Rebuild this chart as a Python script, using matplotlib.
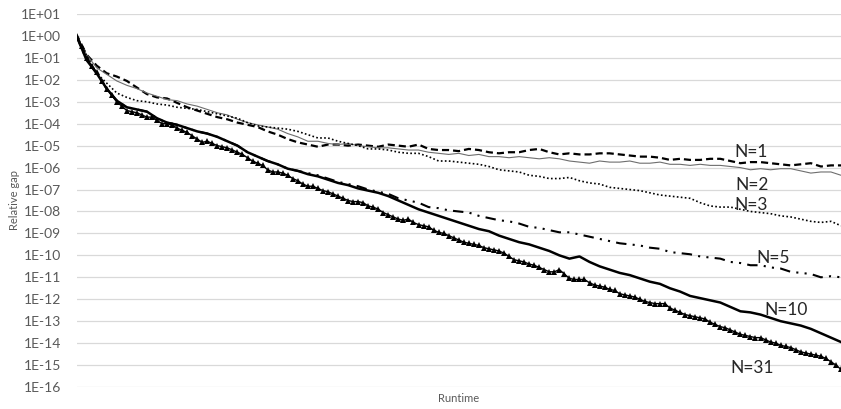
import numpy as np
import matplotlib
matplotlib.use("Agg")
import matplotlib.pyplot as plt

# runtime grid (arbitrary units); fine grid for N=31, coarse for the others
runtime_fine = np.arange(153)
runtime_coarse = runtime_fine[::2]

# log10(relative gap)
n1_log = [0.0, -0.85, -1.35, -1.7, -1.85, -2.05, -2.35, -2.65, -2.8, -2.85,
          -3.05, -3.25, -3.4, -3.55, -3.7, -3.8, -3.95, -4.05, -4.15, -4.35,
          -4.5, -4.7, -4.85, -4.95, -5.05, -4.95, -4.95, -5.0, -4.95, -5.0,
          -5.05, -4.95, -5.0, -5.05, -4.95, -5.15, -5.2, -5.2, -5.25, -5.15,
          -5.2, -5.3, -5.35, -5.3, -5.3, -5.2, -5.15, -5.3, -5.4, -5.35,
          -5.4, -5.4, -5.35, -5.35, -5.4, -5.45, -5.5, -5.5, -5.55, -5.65,
          -5.6, -5.65, -5.65, -5.6, -5.6, -5.7, -5.8, -5.75, -5.75, -5.8,
          -5.85, -5.9, -5.85, -5.8, -5.95, -5.9, -5.9]
n2_log = [0.0, -0.85, -1.45, -1.75, -2.05, -2.25, -2.4, -2.6, -2.75, -2.9,
          -2.95, -3.1, -3.2, -3.35, -3.5, -3.6, -3.8, -3.95, -4.05, -4.15,
          -4.25, -4.45, -4.6, -4.8, -4.8, -4.9, -4.95, -4.9, -5.0, -5.05,
          -5.1, -5.1, -5.15, -5.2, -5.2, -5.3, -5.35, -5.4, -5.35, -5.45,
          -5.4, -5.5, -5.5, -5.55, -5.5, -5.55, -5.6, -5.55, -5.6, -5.7,
          -5.75, -5.8, -5.7, -5.75, -5.75, -5.7, -5.8, -5.8, -5.75, -5.85,
          -5.85, -5.9, -5.85, -5.9, -5.9, -5.95, -6.0, -6.1, -6.05, -6.1,
          -6.05, -6.05, -6.15, -6.25, -6.2, -6.2, -6.35]
n3_log = [0.0, -0.9, -1.7, -2.15, -2.6, -2.8, -2.95, -3.0, -3.1, -3.15,
          -3.25, -3.3, -3.35, -3.45, -3.55, -3.65, -3.75, -3.95, -4.1, -4.15,
          -4.2, -4.25, -4.35, -4.5, -4.65, -4.65, -4.8, -4.9, -5.0, -5.15,
          -5.15, -5.2, -5.3, -5.35, -5.35, -5.5, -5.7, -5.7, -5.75, -5.8,
          -5.85, -5.95, -6.1, -6.15, -6.2, -6.35, -6.4, -6.5, -6.5, -6.45,
          -6.6, -6.7, -6.75, -6.9, -6.95, -7.0, -7.05, -7.15, -7.25, -7.3,
          -7.35, -7.4, -7.6, -7.75, -7.8, -7.8, -7.9, -8.0, -8.05, -8.1,
          -8.2, -8.25, -8.35, -8.45, -8.5, -8.45, -8.65]
n5_log = [0.0, -1.1, -1.7, -2.4, -2.95, -3.25, -3.35, -3.45, -3.75, -3.95,
          -4.05, -4.2, -4.35, -4.45, -4.6, -4.8, -5.0, -5.3, -5.5, -5.7,
          -5.85, -6.05, -6.15, -6.25, -6.35, -6.5, -6.65, -6.75, -6.85, -7.0,
          -7.1, -7.2, -7.4, -7.5, -7.6, -7.8, -7.85, -7.95, -8.0, -8.05,
          -8.2, -8.3, -8.4, -8.45, -8.55, -8.7, -8.75, -8.85, -8.95, -8.95,
          -9.05, -9.15, -9.25, -9.35, -9.45, -9.5, -9.55, -9.65, -9.7, -9.85,
          -9.9, -9.95, -10.05, -10.1, -10.15, -10.3, -10.35, -10.45, -10.45, -10.55,
          -10.6, -10.75, -10.8, -10.85, -11.0, -10.95, -11.0]
n10_log = [0.0, -1.1, -1.7, -2.4, -2.95, -3.25, -3.35, -3.45, -3.75, -3.95,
           -4.05, -4.2, -4.35, -4.45, -4.6, -4.8, -5.0, -5.3, -5.5, -5.7,
           -5.85, -6.05, -6.15, -6.3, -6.4, -6.55, -6.7, -6.8, -6.95, -7.05,
           -7.15, -7.3, -7.5, -7.7, -7.9, -8.05, -8.2, -8.35, -8.5, -8.65,
           -8.8, -8.9, -9.1, -9.25, -9.4, -9.5, -9.65, -9.8, -10.0, -10.15,
           -10.05, -10.3, -10.5, -10.65, -10.8, -10.9, -11.05, -11.2, -11.3, -11.5,
           -11.65, -11.85, -11.95, -12.05, -12.15, -12.35, -12.55, -12.6, -12.7, -12.85,
           -13.0, -13.1, -13.2, -13.35, -13.55, -13.75, -13.95]
n31_log = [0.0, -0.45, -1.0, -1.35, -1.65, -2.05, -2.4, -2.7, -3.0, -3.2,
           -3.4, -3.45, -3.5, -3.6, -3.7, -3.7, -3.85, -4.0, -4.0, -4.05,
           -4.2, -4.3, -4.4, -4.55, -4.7, -4.85, -4.8, -4.9, -5.0, -5.05,
           -5.1, -5.2, -5.3, -5.4, -5.55, -5.7, -5.8, -5.9, -6.1, -6.2,
           -6.2, -6.25, -6.35, -6.5, -6.6, -6.75, -6.85, -6.85, -6.95, -7.05,
           -7.1, -7.2, -7.3, -7.4, -7.5, -7.55, -7.55, -7.6, -7.75, -7.8,
           -7.9, -8.05, -8.15, -8.25, -8.35, -8.4, -8.35, -8.5, -8.6, -8.65,
           -8.7, -8.85, -8.95, -9.0, -9.1, -9.2, -9.3, -9.4, -9.45, -9.5,
           -9.55, -9.65, -9.7, -9.75, -9.8, -9.9, -10.05, -10.2, -10.25, -10.3,
           -10.4, -10.45, -10.55, -10.65, -10.75, -10.75, -10.65, -10.85, -11.05, -11.1,
           -11.1, -11.1, -11.25, -11.35, -11.4, -11.45, -11.55, -11.6, -11.75, -11.8,
           -11.85, -11.9, -12.0, -12.1, -12.15, -12.2, -12.2, -12.2, -12.4, -12.5,
           -12.6, -12.7, -12.75, -12.8, -12.85, -12.9, -13.05, -13.15, -13.25, -13.3,
           -13.4, -13.5, -13.6, -13.65, -13.7, -13.75, -13.75, -13.85, -13.95, -14.0,
           -14.1, -14.15, -14.2, -14.3, -14.4, -14.45, -14.5, -14.55, -14.6, -14.7,
           -14.85, -15.0, -15.2]

labels = ["N=1", "N=2", "N=3", "N=5", "N=10", "N=31"]
label_x = [134.2, 134.4, 134.2, 138.6, 141.0, 134.4]
label_log = [-5.29, -6.79, -7.71, -10.12, -12.49, -15.13]
y_ticks = [10.0 ** k for k in range(-16, 2)]
y_ticklabels = ["1E%+03d" % k for k in range(-16, 2)]

plt.rcParams['font.family'] = ['Lato', 'DejaVu Sans']

fig = plt.figure(figsize=(8.41, 4.09), dpi=100)
ax = fig.add_axes([76.5 / 841, 1 - 387 / 409, (841 - 76.5) / 841, (387 - 14) / 409])

ax.plot(runtime_coarse, 10.0 ** np.array(n1_log), color='black', lw=1.6,
        linestyle=(0, (3.2, 1.8)))
ax.plot(runtime_coarse, 10.0 ** np.array(n2_log), color='#6e6e6e', lw=0.8)
ax.plot(runtime_coarse, 10.0 ** np.array(n3_log), color='black', lw=1.2,
        linestyle=(0, (1, 1.4)))
ax.plot(runtime_coarse, 10.0 ** np.array(n5_log), color='black', lw=1.5,
        linestyle=(0, (5, 3, 1, 3, 1, 3)))
ax.plot(runtime_coarse, 10.0 ** np.array(n10_log), color='black', lw=1.8)
ax.plot(runtime_fine, 10.0 ** np.array(n31_log), color='black', lw=1.0,
        marker='^', markersize=3.9, markeredgewidth=0)

ax.set_yscale('log')
ax.set_ylim(1e-16, 1e1)
ax.set_xlim(0, 152)
ax.yaxis.set_major_locator(matplotlib.ticker.FixedLocator(y_ticks))
ax.yaxis.set_minor_locator(matplotlib.ticker.NullLocator())
ax.set_yticks(y_ticks)
ax.set_yticklabels(y_ticklabels)
ax.set_xticks([])
ax.tick_params(axis='y', length=0, pad=11, labelsize=10, labelcolor='#595959')
for s in ax.spines.values():
    s.set_visible(False)
ax.grid(axis='y', color='#d9d9d9', lw=0.9)
ax.set_axisbelow(True)
ax.patch.set_alpha(0)

for lab, lx, ly in zip(labels, label_x, label_log):
    ax.text(lx, 10.0 ** ly, lab, fontsize=12.5, ha='center', va='center', color='#262626')

fig.text(15 / 841, 1 - 200 / 409, "Relative gap", rotation=90, fontsize=8,
         color='#595959', ha='center', va='center')
fig.text(459 / 841, 1 - 398 / 409, "Runtime", fontsize=8, color='#595959',
         ha='center', va='center')

fig.savefig("out.png", dpi=100)
